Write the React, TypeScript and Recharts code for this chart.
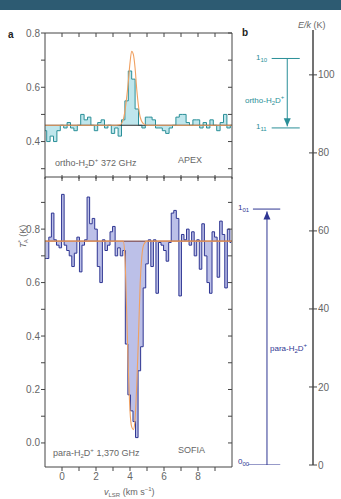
import React from "react";
import {
  ComposedChart,
  Area,
  Line,
  XAxis,
  YAxis,
  ReferenceLine,
} from "recharts";

// ortho-H2D+ 372 GHz (APEX), channel centres and antenna temperatures
const orthoVel = [
  -1.0, -0.8, -0.6, -0.4, -0.2, 0.0, 0.2, 0.4, 0.6, 0.8,
  1.0, 1.2, 1.4, 1.6, 1.8, 2.0, 2.2, 2.4, 2.6, 2.8,
  3.0, 3.2, 3.4, 3.6, 3.8, 4.0, 4.2, 4.4, 4.6, 4.8,
  5.0, 5.2, 5.4, 5.6, 5.8, 6.0, 6.2, 6.4, 6.6, 6.8,
  7.0, 7.2, 7.4, 7.6, 7.8, 8.0, 8.2, 8.4, 8.6, 8.8,
  9.0, 9.2, 9.4, 9.6, 9.8, 10.0,
];
const orthoTemp = [
  0.44, 0.40, 0.42, 0.40, 0.44, 0.46, 0.45, 0.47, 0.45, 0.44,
  0.46, 0.50, 0.48, 0.49, 0.46, 0.44, 0.47, 0.48, 0.45, 0.46,
  0.43, 0.45, 0.42, 0.48, 0.55, 0.66, 0.63, 0.52, 0.46, 0.45,
  0.49, 0.49, 0.48, 0.45, 0.45, 0.44, 0.43, 0.45, 0.46, 0.49,
  0.50, 0.50, 0.47, 0.46, 0.48, 0.48, 0.45, 0.47, 0.45, 0.48,
  0.46, 0.44, 0.47, 0.50, 0.45, 0.46,
];
const orthoFitVel = [-1, 3.0, 3.4, 3.6, 3.8, 3.9, 4.0, 4.1, 4.2, 4.3, 4.4, 4.5, 4.6, 4.8, 5.0, 10];
const orthoFitTemp = [0.46, 0.46, 0.462, 0.48, 0.56, 0.62, 0.69, 0.733, 0.72, 0.67, 0.59, 0.53, 0.49, 0.465, 0.46, 0.46];
const orthoBase = 0.46;

// para-H2D+ 1,370 GHz (SOFIA)
const paraVel = [
  -1.0, -0.85, -0.7, -0.55, -0.4, -0.25, -0.1, 0.05, 0.2, 0.35,
  0.5, 0.65, 0.8, 0.95, 1.1, 1.25, 1.4, 1.55, 1.7, 1.85,
  2.0, 2.15, 2.3, 2.45, 2.6, 2.75, 2.9, 3.05, 3.2, 3.35,
  3.5, 3.65, 3.8, 3.95, 4.1, 4.25, 4.4, 4.55, 4.7, 4.85,
  5.0, 5.15, 5.3, 5.45, 5.6, 5.75, 5.9, 6.05, 6.2, 6.35,
  6.5, 6.65, 6.8, 6.95, 7.1, 7.25, 7.4, 7.55, 7.7, 7.85,
  8.0, 8.15, 8.3, 8.45, 8.6, 8.75, 8.9, 9.05, 9.2, 9.35,
  9.5, 9.65, 9.8, 9.95,
];
const paraTemp = [
  0.69, 0.69, 0.77, 0.86, 0.76, 0.74, 0.73, 0.93, 0.74, 0.72,
  0.70, 0.66, 0.71, 0.77, 0.64, 0.74, 0.76, 0.92, 0.82, 0.84,
  0.80, 0.66, 0.60, 0.76, 0.72, 0.74, 0.79, 0.81, 0.70, 0.73,
  0.70, 0.72, 0.37, 0.18, 0.12, 0.08, 0.02, 0.27, 0.36, 0.58,
  0.67, 0.76, 0.66, 0.76, 0.56, 0.75, 0.74, 0.72, 0.68, 0.75,
  0.86, 0.87, 0.84, 0.55, 0.78, 0.76, 0.80, 0.74, 0.79, 0.70,
  0.76, 0.65, 0.82, 0.70, 0.60, 0.56, 0.79, 0.77, 0.62, 0.83,
  0.78, 0.58, 0.80, 0.75,
];
const paraFitVel = [-1, 3.6, 3.7, 3.8, 3.9, 4.0, 4.1, 4.2, 4.3, 4.4, 4.5, 4.6, 4.7, 4.8, 5.0, 10];
const paraFitTemp = [0.755, 0.755, 0.70, 0.50, 0.28, 0.12, 0.06, 0.05, 0.09, 0.22, 0.40, 0.60, 0.70, 0.74, 0.755, 0.755];
const paraBase = 0.755;

// energy levels (E/k in K)
const levelNames = ["1_10", "1_11", "1_01", "0_00"];
const levelEnergy = [104.2, 86.4, 65.6, 0];
const energyTicks = [0, 20, 40, 60, 80, 100];

const velTicks = [0, 1, 2, 3, 4, 5, 6, 7, 8, 9];
const orthoTicks = [0.3, 0.4, 0.5, 0.6, 0.7, 0.8];
const paraTicks = [0, 0.1, 0.2, 0.3, 0.4, 0.5, 0.6, 0.7, 0.8, 0.9];

const orthoData = orthoVel.map((v, i) => ({ v, t: orthoTemp[i] }));
const orthoFit = orthoFitVel.map((v, i) => ({ v, t: orthoFitTemp[i] }));
const paraData = paraVel.map((v, i) => ({ v, t: paraTemp[i] }));
const paraFit = paraFitVel.map((v, i) => ({ v, t: paraFitTemp[i] }));

// horizontal extent of each level bar and arrow columns in panel b (layout units 0..10)
const levelSpan: Record<string, [number, number]> = {
  "1_10": [4.7, 8.3],
  "1_11": [4.7, 8.3],
  "1_01": [2.3, 5.8],
  "0_00": [1.7, 5.8],
};
const orthoArrowX = 6.7;
const paraArrowX = 4.1;

const FONT = "'Liberation Sans', Arial, sans-serif";
const tickStyle = { fontSize: 10, fill: "#666", fontFamily: FONT };
const axisColor = "#444";
const ORTHO = "#2a8f98";
const PARA = "#2e3592";
const FIT = "#f0a060";

const evenLabel = (v: number) => (Math.round(v * 10) % 2 === 0 ? v.toFixed(1) : "");
const blank = () => "";

function Note(props: { x: number; y: number; children: React.ReactNode; style?: React.CSSProperties }) {
  return (
    <div
      style={{
        position: "absolute",
        left: props.x,
        top: props.y,
        fontFamily: FONT,
        fontSize: 9,
        color: "#666",
        lineHeight: "10px",
        whiteSpace: "nowrap",
        ...props.style,
      }}
    >
      {props.children}
    </div>
  );
}

const sub = { fontSize: 6, verticalAlign: "-2px" } as React.CSSProperties;
const sup = { fontSize: 6, verticalAlign: "4px" } as React.CSSProperties;

const arrowHead = (color: string, dir: 1 | -1) => (p: any) => {
  if (p.index !== 1) return <g key={p.index} />;
  return <path key={p.index} d={`M${p.cx},${p.cy} l-3.5,${-8 * dir} l7,0 z`} fill={color} stroke="none" />;
};

export default function App() {
  const lvl = (name: string) => levelEnergy[levelNames.indexOf(name)];
  const levelLine = (name: string) =>
    levelSpan[name].map((x) => ({ x, e: lvl(name) }));
  const orthoArrow = [
    { x: orthoArrowX, e: lvl("1_10") },
    { x: orthoArrowX, e: lvl("1_11") + 0.4 },
  ];
  const paraArrow = [
    { x: paraArrowX, e: lvl("0_00") },
    { x: paraArrowX, e: lvl("1_01") - 0.6 },
  ];

  return (
    <div style={{ position: "fixed", left: 0, top: 0, width: 341, height: 499, background: "#fff", overflow: "hidden" }}>
      <div style={{ position: "absolute", left: 0, top: 0, width: 341, height: 10, background: "#2d5b72" }} />

      {/* panel a, bottom: para (drawn first so the shared edge belongs to it) */}
      <div style={{ position: "absolute", left: 0, top: 170 }}>
        <ComposedChart width={240} height={329} margin={{ top: 7, left: 44, right: 8, bottom: 31 }}>
          <XAxis xAxisId="b" type="number" dataKey="v" domain={[-1, 10]} allowDataOverflow ticks={velTicks}
            height={1} tickSize={4} tickFormatter={(v: number) => (v % 2 === 0 ? String(v) : "")} tick={tickStyle}
            stroke={axisColor} />
          <XAxis xAxisId="t" type="number" dataKey="v" orientation="top" domain={[-1, 10]} allowDataOverflow ticks={velTicks}
            height={1} mirror tickSize={4} tickFormatter={blank} stroke={axisColor} />
          <YAxis yAxisId="l" type="number" domain={[-0.09, 0.995]} allowDataOverflow ticks={paraTicks} width={1}
            tickSize={4} tickMargin={1} tickFormatter={evenLabel} tick={tickStyle} stroke={axisColor} />
          <YAxis yAxisId="r" orientation="right" type="number" domain={[-0.09, 0.995]} allowDataOverflow ticks={paraTicks}
            width={1} mirror tickSize={4} tickFormatter={blank} stroke={axisColor} />
          <Area xAxisId="b" yAxisId="l" data={paraData} dataKey="t" type="step" baseValue={paraBase}
            stroke={PARA} strokeWidth={1} fill="#bcc0e8" fillOpacity={1} isAnimationActive={false} />
          <ReferenceLine xAxisId="b" yAxisId="l" y={paraBase} stroke="#6a2a2a" strokeWidth={1} />
          <Line xAxisId="b" yAxisId="l" data={paraFit} dataKey="t" type="monotone" stroke={FIT} strokeWidth={1.1}
            dot={false} isAnimationActive={false} />
        </ComposedChart>
      </div>

      {/* panel a, top: ortho */}
      <div style={{ position: "absolute", left: 0, top: 0, pointerEvents: "none" }}>
        <ComposedChart width={240} height={180} margin={{ top: 33, left: 44, right: 8, bottom: 1 }}>
          <XAxis xAxisId="b" type="number" dataKey="v" domain={[-1, 10]} allowDataOverflow ticks={velTicks}
            height={1} mirror tickSize={4} axisLine={false} tickFormatter={blank} stroke={axisColor} />
          <XAxis xAxisId="t" type="number" dataKey="v" orientation="top" domain={[-1, 10]} allowDataOverflow ticks={velTicks}
            height={1} mirror tickSize={4} tickFormatter={blank} stroke={axisColor} />
          <YAxis yAxisId="l" type="number" domain={[0.262, 0.8]} allowDataOverflow ticks={orthoTicks} width={1}
            tickSize={4} tickMargin={1} tickFormatter={evenLabel} tick={tickStyle} stroke={axisColor} />
          <YAxis yAxisId="r" orientation="right" type="number" domain={[0.262, 0.8]} allowDataOverflow ticks={orthoTicks}
            width={1} mirror tickSize={4} tickFormatter={blank} stroke={axisColor} />
          <Area xAxisId="b" yAxisId="l" data={orthoData} dataKey="t" type="step" baseValue={orthoBase}
            stroke={ORTHO} strokeWidth={1} fill="#bfe6ec" fillOpacity={1} isAnimationActive={false} />
          <ReferenceLine xAxisId="b" yAxisId="l" y={orthoBase} stroke="#333" strokeWidth={1} />
          <Line xAxisId="b" yAxisId="l" data={orthoFit} dataKey="t" type="monotone" stroke={FIT} strokeWidth={1.1}
            dot={false} isAnimationActive={false} />
        </ComposedChart>
      </div>

      {/* panel b: energy levels */}
      <div style={{ position: "absolute", left: 235, top: 0 }}>
        <ComposedChart width={106} height={499} margin={{ top: 30, left: 0, right: 27, bottom: 34 }}>
          <XAxis type="number" dataKey="x" domain={[0, 10]} allowDataOverflow hide />
          <YAxis yAxisId="e" orientation="right" type="number" dataKey="e" domain={[0, 111.5]} allowDataOverflow
            ticks={energyTicks} width={1} tickSize={4} tickMargin={1} tick={tickStyle} stroke={axisColor} />
          <YAxis yAxisId="m" orientation="right" type="number" domain={[0, 111.5]} allowDataOverflow ticks={energyTicks}
            width={1} mirror tickSize={4} tickFormatter={blank} stroke={axisColor} />
          {levelNames.map((name, i) => (
            <Line key={name} yAxisId="e" data={levelLine(name)} dataKey="e" type="linear"
              stroke={i < 2 ? ORTHO : PARA} strokeWidth={1} dot={false} isAnimationActive={false} />
          ))}
          <Line yAxisId="e" data={orthoArrow} dataKey="e" type="linear" stroke={ORTHO} strokeWidth={1}
            dot={arrowHead(ORTHO, 1)} isAnimationActive={false} />
          <Line yAxisId="e" data={paraArrow} dataKey="e" type="linear" stroke={PARA} strokeWidth={1}
            dot={arrowHead(PARA, -1)} isAnimationActive={false} />
        </ComposedChart>
      </div>

      {/* texts */}
      <Note x={8} y={30} style={{ fontWeight: "bold", color: "#222", fontSize: 10 }}>a</Note>
      <Note x={242} y={28} style={{ fontWeight: "bold", color: "#222", fontSize: 10 }}>b</Note>
      <Note x={298} y={20} style={{ fontStyle: "italic" }}>
        E/k <span style={{ fontStyle: "normal" }}>(K)</span>
      </Note>
      <Note x={55} y={155}>
        ortho-H<span style={sub}>2</span>D<span style={sup}>+</span> 372 GHz
      </Note>
      <Note x={178} y={155}>APEX</Note>
      <Note x={53} y={445}>
        para-H<span style={sub}>2</span>D<span style={sup}>+</span> 1,370 GHz
      </Note>
      <Note x={178} y={445}>SOFIA</Note>
      <Note x={104} y={484}>
        <i>v</i>
        <span style={sub}>LSR</span> (km s<span style={sup}>−1</span>)
      </Note>
      <Note x={-2} y={221} style={{ transform: "rotate(-90deg)", transformOrigin: "22px 5px" }}>
        <i>T</i>
        <span style={sup}>*</span>
        <span style={{ ...sub, marginLeft: -3 }}>A</span> (K)
      </Note>

      <Note x={256} y={53} style={{ color: ORTHO, fontSize: 8 }}>
        1<span style={sub}>10</span>
      </Note>
      <Note x={256} y={122} style={{ color: ORTHO, fontSize: 8 }}>
        1<span style={sub}>11</span>
      </Note>
      <Note x={245} y={92} style={{ color: ORTHO, fontSize: 8 }}>
        ortho-H<span style={sub}>2</span>D<span style={sup}>+</span>
      </Note>
      <Note x={238} y={203} style={{ color: PARA, fontSize: 8 }}>
        1<span style={sub}>01</span>
      </Note>
      <Note x={238} y={457} style={{ color: PARA, fontSize: 8 }}>
        0<span style={sub}>00</span>
      </Note>
      <Note x={270} y={340} style={{ color: PARA, fontSize: 8 }}>
        para-H<span style={sub}>2</span>D<span style={sup}>+</span>
      </Note>
    </div>
  );
}
